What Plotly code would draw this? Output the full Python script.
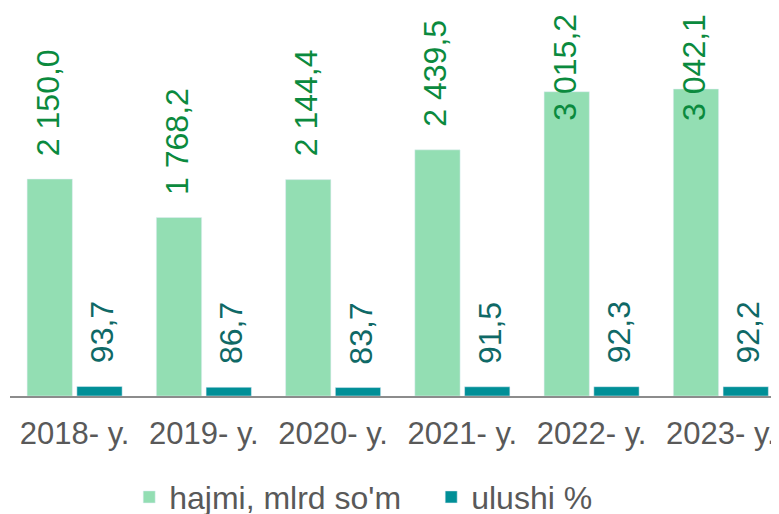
import plotly.graph_objects as go

years = ["2018- y.", "2019- y.", "2020- y.", "2021- y.", "2022- y.", "2023- y."]
hajmi = [2150.0, 1768.2, 2144.4, 2439.5, 3015.2, 3042.1]
ulushi = [93.7, 86.7, 83.7, 91.5, 92.3, 92.2]

GREEN = "#93deb3"
TEAL = "#008f97"
Y_MAX = 3825
LABEL_CAP = Y_MAX * 0.654   # tall labels get pushed down to stay inside the chart


def fmt(v):
    # 2150.0 -> "2 150,0"
    return f"{v:,.1f}".replace(",", " ").replace(".", ",")


fig = go.Figure()
fig.add_trace(go.Bar(x=years, y=hajmi, name="hajmi, mlrd so'm",
                     marker=dict(color=GREEN)))
fig.add_trace(go.Bar(x=years, y=ulushi, name="ulushi %",
                     marker=dict(color=TEAL)))

annotations = []
for yr, h, u in zip(years, hajmi, ulushi):
    annotations.append(dict(
        x=yr, y=min(h, LABEL_CAP), text=fmt(h), textangle=-90,
        xanchor="center", yanchor="bottom", xshift=-27, yshift=21,
        showarrow=False, font=dict(size=32, color="#0b8a3e")))
    annotations.append(dict(
        x=yr, y=u, text=fmt(u), textangle=-90,
        xanchor="center", yanchor="bottom", xshift=27, yshift=21,
        showarrow=False, font=dict(size=32, color="#0f6966")))

# page body has an 8px margin, so the figure is sized to end at the window edge
fig.update_layout(
    width=771, height=506,
    margin=dict(l=2, r=0, t=2, b=118, autoexpand=False),
    paper_bgcolor="white", plot_bgcolor="white",
    font=dict(family="Liberation Sans, Arial, sans-serif", size=32, color="#595959"),
    barmode="group", bargap=0.23, bargroupgap=0.09,
    showlegend=True,
    legend=dict(orientation="h", x=0.155, xanchor="left", y=-0.262, yanchor="middle",
                font=dict(size=32, color="#595959"), itemwidth=30, entrywidth=257),
    annotations=annotations,
)
fig.update_xaxes(range=[-0.5, 5.45], showline=True, linecolor="#8c8c8c", linewidth=2,
                 ticks="", tickangle=0, showgrid=False, automargin=False,
                 ticklabelstandoff=9,
                 tickfont=dict(size=31, color="#595959"))
fig.update_yaxes(range=[0, Y_MAX], visible=False, showgrid=False, automargin=False)

fig.write_html("out.html")
